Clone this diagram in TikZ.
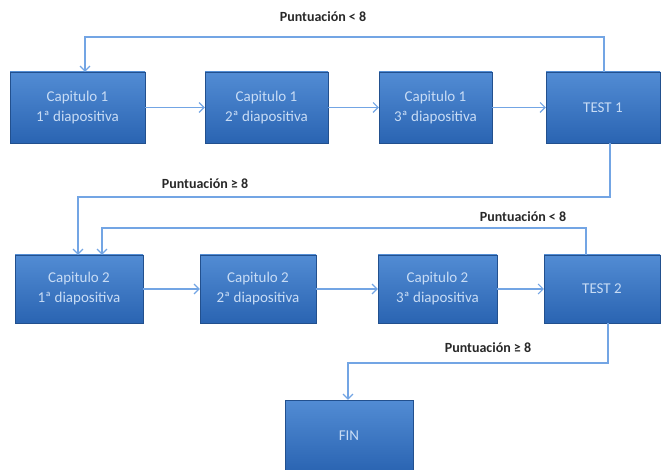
\documentclass[tikz,border=0pt]{standalone}
\usepackage{fontspec}
\setmainfont{Carlito}
\usetikzlibrary{arrows.meta,calc}
\definecolor{boxtop}{RGB}{82,140,212}
\definecolor{boxbot}{RGB}{42,100,178}
\definecolor{boxtxt}{RGB}{200,220,245}
\definecolor{linec}{RGB}{115,165,228}
\definecolor{labc}{RGB}{40,40,40}
\tikzset{
  stepbox/.style={rectangle, top color=boxtop, bottom color=boxbot, draw=boxbot!80!black, line width=0.4pt,
    text=boxtxt, font=\fontsize{15}{20}\selectfont, align=center, inner sep=0pt},
  conn/.style={draw=linec, line width=1.1pt, -{Straight Barb[length=5pt,width=10pt,line width=1.1pt]}},
  lab/.style={font=\bfseries\fontsize{14}{16}\selectfont, text=labc, inner sep=0pt}
}
\begin{document}
\begin{tikzpicture}[x=1pt,y=-1pt]
\useasboundingbox (0,0) rectangle (672,470);
% row 1
\node[stepbox, minimum width=135pt, minimum height=71pt] (b1) at (77.5,107.5) {Capitulo 1\\1ª diapositiva};
\node[stepbox, minimum width=123pt, minimum height=71pt] (b2) at (266.5,107.5) {Capitulo 1\\2ª diapositiva};
\node[stepbox, minimum width=113pt, minimum height=71pt] (b3) at (435.5,107.5) {Capitulo 1\\3ª diapositiva};
\node[stepbox, minimum width=114pt, minimum height=71pt] (t1) at (603,107.5) {TEST 1};
% row 2
\node[stepbox, minimum width=128pt, minimum height=68pt] (b4) at (79,289) {Capitulo 2\\1ª diapositiva};
\node[stepbox, minimum width=116pt, minimum height=68pt] (b5) at (258,289) {Capitulo 2\\2ª diapositiva};
\node[stepbox, minimum width=119pt, minimum height=68pt] (b6) at (437.5,289) {Capitulo 2\\3ª diapositiva};
\node[stepbox, minimum width=116pt, minimum height=68pt] (t2) at (602,289) {TEST 2};
% fin
\node[stepbox, minimum width=128pt, minimum height=72pt] (fin) at (349,436) {FIN};
% row connectors
\draw[conn] (b1) -- (b2);
\draw[conn] (b2) -- (b3);
\draw[conn] (b3) -- (t1);
\draw[conn] (b4) -- (b5);
\draw[conn] (b5) -- (b6);
\draw[conn] (b6) -- (t2);
% loops
\coordinate (l1) at (604,37);
\draw[conn] ([xshift=1pt]t1.north) -- (l1) -| ([xshift=7.5pt]b1.north);
\coordinate (l2) at (610,197);
\draw[conn] ([xshift=7pt]t1.south) -- (l2) -| ([xshift=-1pt]b4.north);
\coordinate (l3) at (586,228);
\draw[conn] ([xshift=-16pt]t2.north) -- (l3) -| ([xshift=23pt]b4.north);
\coordinate (l4) at (608,363);
\draw[conn] ([xshift=6pt]t2.south) -- (l4) -| ([xshift=-1pt]fin.north);
% labels
\node[lab] (p1) at (323,17) {Puntuación < 8};
\node[lab] (p2) at (205,184) {Puntuación ≥ 8};
\node[lab] (p3) at (523,217) {Puntuación < 8};
\node[lab] (p4) at (488,348) {Puntuación ≥ 8};
\end{tikzpicture}
\end{document}
